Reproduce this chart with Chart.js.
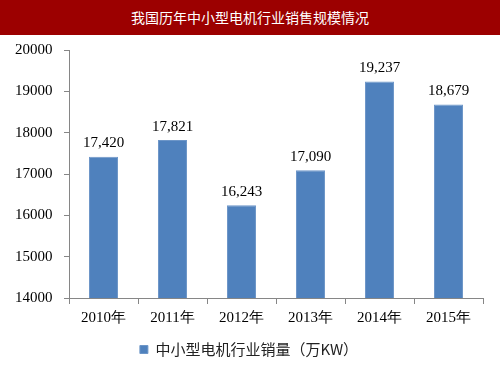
<!DOCTYPE html>
<html>
<head>
<meta charset="utf-8">
<script src="https://cdn.jsdelivr.net/npm/chart.js@4/dist/chart.umd.min.js"></script>
<style>
  html, body { margin: 0; padding: 0; background: #fff; }
  #title {
    width: 500px; height: 35px; background: #9c0000; color: #fff;
    font: 14px "Noto Sans CJK SC", sans-serif; text-align: center; line-height: 35px;
  }
  #wrap { width: 500px; height: 340px; }
</style>
</head>
<body>
<div id="title">我国历年中小型电机行业销售规模情况</div>
<div id="wrap"><canvas id="chart" width="500" height="340"></canvas></div>
<script>
const years = ['2010年', '2011年', '2012年', '2013年', '2014年', '2015年'];
const sales = [17420, 17821, 16243, 17090, 19237, 18679];
const seriesName = '中小型电机行业销量（万KW）';
const yMin = 14000, yMax = 20000, yStep = 1000;

// draws the value above each bar
const valueLabels = {
    id: 'valueLabels',
    afterDatasetsDraw(chart) {
        const ctx = chart.ctx;
        const meta = chart.getDatasetMeta(0);
        ctx.save();
        ctx.font = '15px "Liberation Serif", serif';
        ctx.fillStyle = '#000';
        ctx.textAlign = 'center';
        ctx.textBaseline = 'bottom';
        meta.data.forEach((bar, i) => {
            ctx.fillText(sales[i].toLocaleString('en-US'), bar.x, bar.y - 6);
        });
        ctx.restore();
    }
};

new Chart(document.getElementById('chart').getContext('2d'), {
    type: 'bar',
    data: {
        labels: years,
        datasets: [{
            label: seriesName,
            data: sales,
            backgroundColor: '#4f81bd',
            borderColor: '#6d96c8',
            borderWidth: 1,
            categoryPercentage: 1,
            barPercentage: 0.42
        }]
    },
    options: {
        responsive: false,
        animation: false,
        layout: { padding: { left: 15, right: 17, top: 11, bottom: 8 } },
        plugins: {
            legend: {
                position: 'bottom',
                labels: {
                    boxWidth: 8, boxHeight: 8, padding: 14,
                    color: '#222',
                    font: { family: '"Noto Sans CJK SC", sans-serif', size: 15 }
                }
            },
            tooltip: { enabled: false }
        },
        scales: {
            y: {
                min: yMin, max: yMax,
                ticks: { stepSize: yStep, color: '#000', padding: 6, crossAlign: 'far',
                         callback: v => String(v),
                         font: { family: '"Liberation Serif", serif', size: 15 } },
                grid: { drawOnChartArea: false, tickLength: 5, color: '#868686' },
                border: { color: '#868686' },
                afterFit(scale) { scale.width = 54; }
            },
            x: {
                ticks: { color: '#000', padding: 5,
                         font: { family: '"Liberation Serif", serif', size: 15 } },
                grid: { drawOnChartArea: false, tickLength: 6, color: '#868686', offset: true },
                border: { color: '#868686' },
                afterFit(scale) { scale.height = 30; }
            }
        }
    },
    plugins: [valueLabels]
});
</script>
</body>
</html>
